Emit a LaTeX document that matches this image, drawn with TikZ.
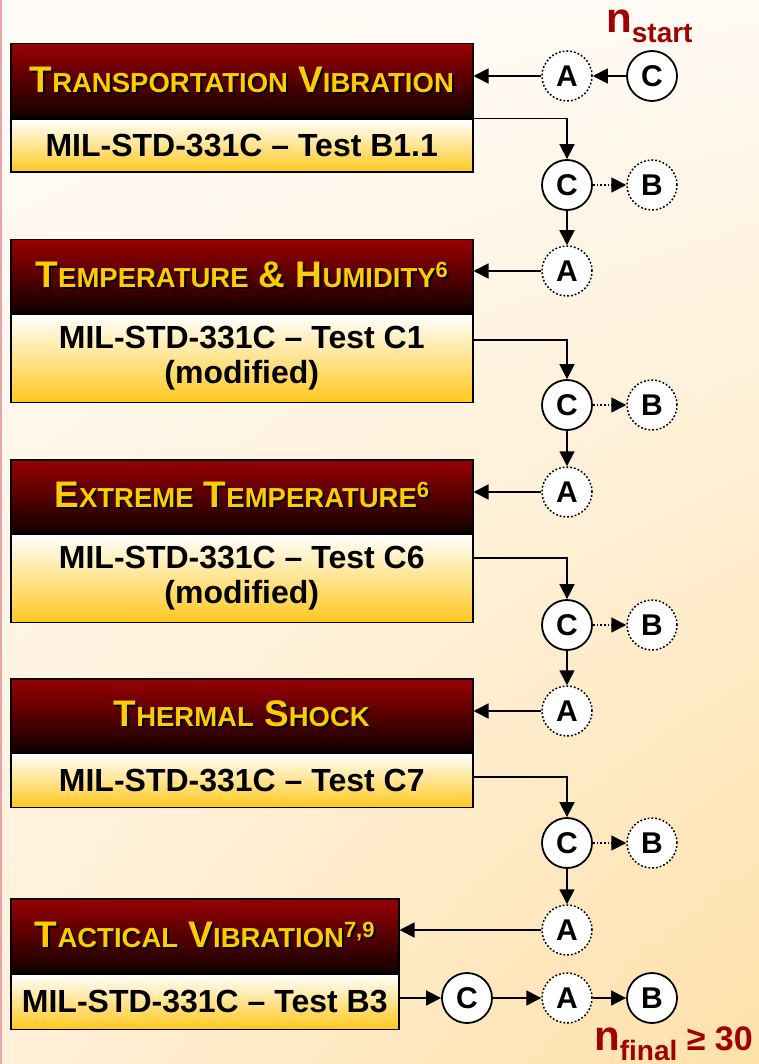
\documentclass[tikz,border=0pt]{standalone}
\usepackage{fontspec}
\setmainfont{Liberation Sans}
\usetikzlibrary{arrows.meta,shadings}
\definecolor{tred}{RGB}{153,0,0}
\definecolor{tmid}{RGB}{105,0,0}
\definecolor{tdark}{RGB}{18,0,0}
\definecolor{tgold}{RGB}{255,204,0}
\definecolor{lgold}{RGB}{255,200,30}
\definecolor{lmid}{RGB}{255,236,180}
\definecolor{nred}{RGB}{160,0,0}
\definecolor{bgtl}{RGB}{255,252,248}
\definecolor{bgtr}{RGB}{255,250,244}
\definecolor{bgbl}{RGB}{255,240,216}
\definecolor{bgbr}{RGB}{255,224,168}
\definecolor{edgepink}{RGB}{232,164,168}
\newcommand\shtext[1]{\rlap{\kern2pt\raisebox{-2pt}{\color{black}#1}}{\color{tgold}#1}}
\newcommand\smc[2]{{\fontsize{37}{40}\selectfont #1}{\fontsize{27.5}{30}\selectfont #2}}
\newcommand\supn[1]{\raisebox{10pt}{\fontsize{22}{24}\selectfont #1}}
\begin{document}
\begin{tikzpicture}[x=1pt,y=-1pt,
  tbox/.style={draw=black, line width=1.5pt, top color=tred, middle color=tmid, bottom color=tdark,
    inner sep=0pt, anchor=north west, align=center,
    font=\bfseries\fontsize{37}{40}\selectfont},
  lbox/.style={draw=black, line width=1.5pt, top color=white, middle color=lmid, bottom color=lgold,
    inner sep=0pt, anchor=north west, align=center,
    font=\bfseries\fontsize{32}{35}\selectfont},
  circ/.style={circle, draw=black, fill=white, minimum size=50pt, inner sep=0pt,
    line width=1.8pt, font=\bfseries\fontsize{30}{32}\selectfont},
  dcirc/.style={circ, dotted, line width=1.5pt},
  arr/.style={line width=1.7pt, -{Triangle[length=15pt,width=15pt]}},
  darr/.style={arr, dotted},
  nlab/.style={inner sep=0pt, anchor=base west, text=nred, font=\bfseries\fontsize{42}{44}\selectfont}
]
\useasboundingbox (0,0) rectangle (759,1064);
\shade[upper left=bgtl, upper right=bgtr, lower left=bgbl, lower right=bgbr] (0,0) rectangle (759,1064);
\fill[edgepink] (0,0) rectangle (2,1064);

% boxes
\node[tbox, minimum width=462pt, minimum height=74pt] (t1) at (10,43)
  {\shtext{\smc{T}{RANSPORTATION} \smc{V}{IBRATION}}};
\node[lbox, minimum width=462pt, minimum height=53pt] (l1) at (t1.south west)
  {MIL-STD-331C -- Test B1.1};

\node[tbox, minimum width=462pt, minimum height=73pt] (t2) at (10,239)
  {\shtext{\smc{T}{EMPERATURE} \smc{\&}{} \smc{H}{UMIDITY}\supn{6}}};
\node[lbox, minimum width=462pt, minimum height=88pt] (l2) at (t2.south west)
  {MIL-STD-331C -- Test C1\\(modified)};

\node[tbox, minimum width=462pt, minimum height=73pt] (t3) at (10,459)
  {\shtext{\smc{E}{XTREME} \smc{T}{EMPERATURE}\supn{6}}};
\node[lbox, minimum width=462pt, minimum height=88pt] (l3) at (t3.south west)
  {MIL-STD-331C -- Test C6\\(modified)};

\node[tbox, minimum width=462pt, minimum height=73pt] (t4) at (10,678)
  {\shtext{\smc{T}{HERMAL} \smc{S}{HOCK}}};
\node[lbox, minimum width=462pt, minimum height=54pt] (l4) at (t4.south west)
  {MIL-STD-331C -- Test C7};

\node[tbox, minimum width=388pt, minimum height=74pt] (t5) at (10,898)
  {\shtext{\smc{T}{ACTICAL} \smc{V}{IBRATION}\supn{7,9}}};
\node[lbox, minimum width=388pt, minimum height=55pt] (l5) at (t5.south west)
  {MIL-STD-331C -- Test B3};

% circles
\node[circ]  (c0) at (652,76) {C};
\node[dcirc] (a1) at (567,76) {A};
\node[circ]  (c1) at (567,185) {C};
\node[dcirc] (b1) at (652,185) {B};
\node[dcirc] (a2) at (567,271) {A};
\node[circ]  (c2) at (567,405) {C};
\node[dcirc] (b2) at (652,405) {B};
\node[dcirc] (a3) at (567,492) {A};
\node[circ]  (c3) at (567,625) {C};
\node[dcirc] (b3) at (652,625) {B};
\node[dcirc] (a4) at (567,711) {A};
\node[circ]  (c4) at (567,843) {C};
\node[dcirc] (b4) at (652,843) {B};
\node[dcirc] (a5) at (567,930) {A};
\node[circ]  (cf) at (467,998) {C};
\node[dcirc] (af) at (567,998) {A};
\node[circ]  (bf) at (652,998) {B};

% labels
\node[nlab] (ns) at (606,33) {n\raisebox{-10pt}{\fontsize{28}{30}\selectfont start}};
\node[nlab] (nf) at (594,1050) {n\raisebox{-10pt}{\fontsize{28}{30}\selectfont final}{\fontsize{34}{36}\selectfont\ ≥ 30}};

% connectors
\draw[arr] (c0) -- (a1);
\draw[arr] (a1) -- (a1 -| t1.east);
\draw[arr] (l1.north east) -| (c1);
\draw[darr] (c1) -- (b1);
\draw[arr] (c1) -- (a2);
\draw[arr] (a2) -- (a2 -| t2.east);
\draw[arr] ([yshift=18pt]l2.east) -| (c2);
\draw[darr] (c2) -- (b2);
\draw[arr] (c2) -- (a3);
\draw[arr] (a3) -- (a3 -| t3.east);
\draw[arr] ([yshift=20pt]l3.east) -| (c3);
\draw[darr] (c3) -- (b3);
\draw[arr] (c3) -- (a4);
\draw[arr] (a4) -- (a4 -| t4.east);
\draw[arr] ([yshift=3pt]l4.east) -| (c4);
\draw[darr] (c4) -- (b4);
\draw[arr] (c4) -- (a5);
\draw[arr] (a5) -- (a5 -| t5.east);
\draw[arr] (l5.east |- cf) -- (cf);
\draw[arr] (cf) -- (af);
\draw[arr] (af) -- (bf);
\end{tikzpicture}
\end{document}
